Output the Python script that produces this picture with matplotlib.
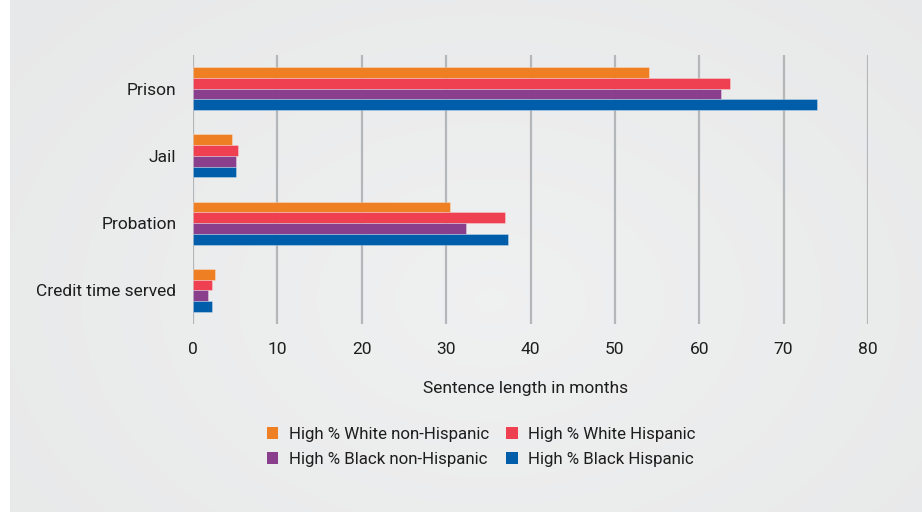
import matplotlib
matplotlib.use("Agg")
import matplotlib.pyplot as plt
import numpy as np
from matplotlib.patches import Patch

categories = ["Prison", "Jail", "Probation", "Credit time served"]
series_names = ["High % White non-Hispanic", "High % White Hispanic",
                "High % Black non-Hispanic", "High % Black Hispanic"]
white_non_hisp = [54.0, 4.6, 30.4, 2.6]
white_hisp = [63.6, 5.35, 37.0, 2.3]
black_non_hisp = [62.6, 5.1, 32.4, 1.8]
black_hisp = [74.0, 5.1, 37.3, 2.3]
xticks = [0, 10, 20, 30, 40, 50, 60, 70, 80]

colors = ["#EE7F22", "#EE4050", "#8A3F8C", "#005DAA"]
plt.rcParams['font.family'] = ['Roboto', 'DejaVu Sans']

W, H = 922, 512
fig = plt.figure(figsize=(W/100, H/100), dpi=100, facecolor="white")

# background panel with a soft radial gradient
bg = fig.add_axes([10/W, 0, 1-10/W, 1])
yy, xx = np.mgrid[0:H, 0:W-10]
d = np.sqrt(((xx-480)/600.0)**2 + ((yy-300)/420.0)**2)
val = 0.942 - 0.030*np.clip(d, 0, 1)
bg.imshow(np.dstack([val-0.003, val, val+0.002]), aspect='auto', extent=[0, 1, 0, 1])
bg.set_axis_off()

ax = fig.add_axes([193/W, 1-324/H, (868-193)/W, (324-55)/H])
ax.set_facecolor("none")
ax.patch.set_alpha(0)

data = [white_non_hisp, white_hisp, black_non_hisp, black_hisp]
h = 0.16
y = np.arange(len(categories))
for i, (vals, c) in enumerate(zip(data, colors)):
    ax.barh(y + (i-1.5)*h, vals, height=h, color=c, zorder=3,
            edgecolor=(1, 1, 1, 0.35), linewidth=0.6)

ax.set_xlim(0, 80)
ax.set_ylim(3.5, -0.5)
ax.set_yticks(y)
ax.set_yticklabels(categories)
ax.set_xticks(xticks)
ax.set_xticklabels([str(t) for t in xticks])
ax.tick_params(axis='both', length=0, labelsize=12.5, colors="#1e1e1e")
ax.tick_params(axis='x', pad=13)
ax.tick_params(axis='y', pad=12)
ax.grid(axis='x', color="#b4b7ba", linewidth=1.6, zorder=1)
for s in ax.spines.values():
    s.set_visible(False)

fig.text(526/W, 1-389/H, "Sentence length in months", ha='center', va='center',
         fontsize=12.5, color="#1e1e1e")

handles = [Patch(facecolor=c, edgecolor='none') for c in colors]
order = [0, 2, 1, 3]
leg = fig.legend([handles[i] for i in order], [series_names[i] for i in order],
                 ncol=2, loc='center', bbox_to_anchor=(481/W, 1-447/H),
                 frameon=False, fontsize=12.2, handlelength=0.7, handleheight=0.7,
                 handletextpad=0.6, columnspacing=1.0, labelspacing=0.55,
                 labelcolor="#1e1e1e")

fig.savefig("out.png", dpi=100, facecolor="white")
